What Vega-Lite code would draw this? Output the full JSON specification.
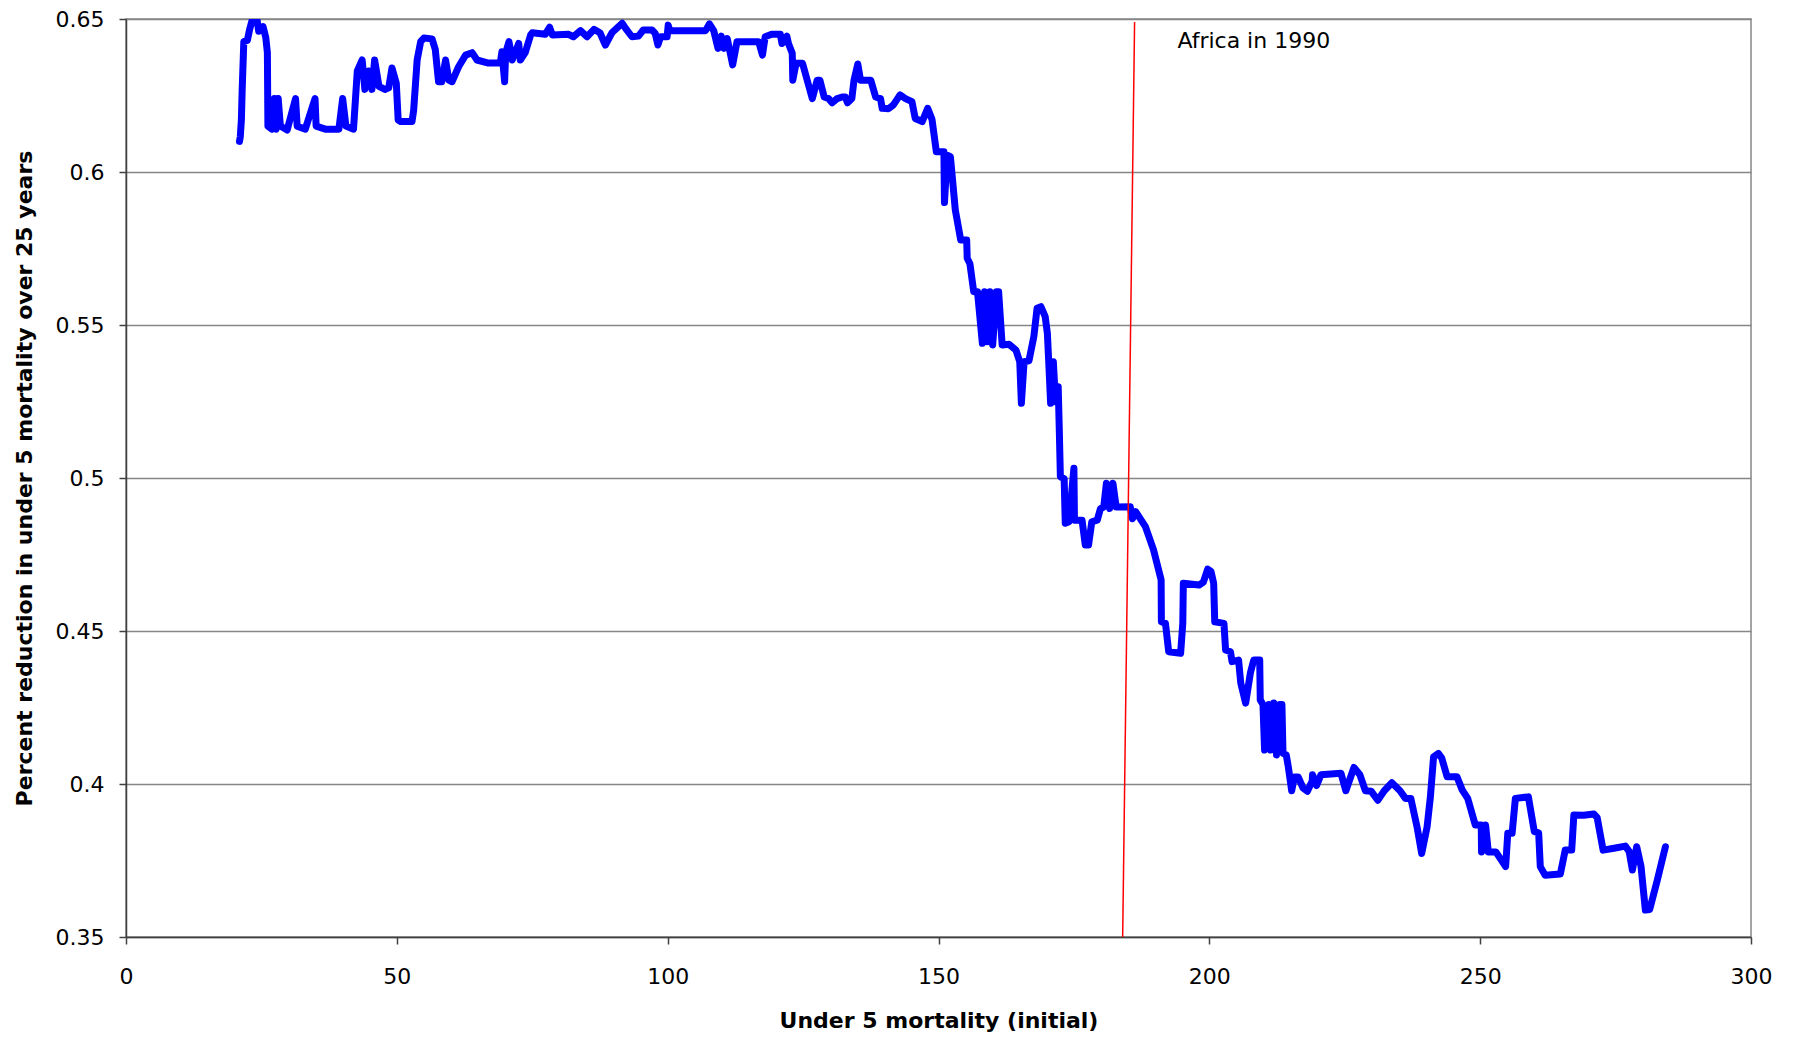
{
  "$schema": "https://vega.github.io/schema/vega-lite/v6.json",
  "width": 1625,
  "height": 918,
  "autosize": "none",
  "padding": {"left": 126, "top": 19, "right": 44, "bottom": 102},
  "background": "white",
  "config": {"font": "DejaVu Sans", "view": {"stroke": "#868686", "strokeWidth": 1.5}},
  "datasets": {
    "curve": [
      {"u5m":20.95,"reduction":0.610},{"u5m":21.1,"reduction":0.6115},{"u5m":21.3,"reduction":0.617},{"u5m":21.45,"reduction":0.627},{"u5m":21.75,"reduction":0.6426},{"u5m":22.4,"reduction":0.643},{"u5m":22.8,"reduction":0.6464},{"u5m":23.3,"reduction":0.6497},{"u5m":24.2,"reduction":0.6497},{"u5m":24.5,"reduction":0.646},{"u5m":25.3,"reduction":0.6475},{"u5m":25.8,"reduction":0.644},{"u5m":26.1,"reduction":0.639},{"u5m":26.2,"reduction":0.615},{"u5m":26.95,"reduction":0.614},{"u5m":27.4,"reduction":0.624},{"u5m":27.7,"reduction":0.614},{"u5m":28.1,"reduction":0.624},{"u5m":28.5,"reduction":0.615},{"u5m":29.75,"reduction":0.6137},{"u5m":31.3,"reduction":0.624},{"u5m":31.6,"reduction":0.615},{"u5m":33.1,"reduction":0.614},{"u5m":34.9,"reduction":0.624},{"u5m":35.1,"reduction":0.615},{"u5m":36.8,"reduction":0.614},{"u5m":39.3,"reduction":0.614},{"u5m":40.0,"reduction":0.624},{"u5m":40.6,"reduction":0.615},{"u5m":42.0,"reduction":0.614},{"u5m":42.7,"reduction":0.633},{"u5m":43.6,"reduction":0.6366},{"u5m":44.1,"reduction":0.627},{"u5m":44.8,"reduction":0.633},{"u5m":45.4,"reduction":0.627},{"u5m":45.9,"reduction":0.6366},{"u5m":46.7,"reduction":0.628},{"u5m":47.8,"reduction":0.627},{"u5m":48.5,"reduction":0.6275},{"u5m":49.1,"reduction":0.634},{"u5m":49.9,"reduction":0.629},{"u5m":50.25,"reduction":0.617},{"u5m":50.7,"reduction":0.6165},{"u5m":52.8,"reduction":0.6165},{"u5m":53.1,"reduction":0.620},{"u5m":53.75,"reduction":0.6366},{"u5m":54.4,"reduction":0.6426},{"u5m":55.0,"reduction":0.6438},{"u5m":56.5,"reduction":0.6435},{"u5m":57.1,"reduction":0.640},{"u5m":57.7,"reduction":0.6295},{"u5m":58.3,"reduction":0.6295},{"u5m":59.0,"reduction":0.6366},{"u5m":59.6,"reduction":0.630},{"u5m":60.2,"reduction":0.6295},{"u5m":61.4,"reduction":0.6344},{"u5m":62.7,"reduction":0.6382},{"u5m":63.9,"reduction":0.639},{"u5m":64.8,"reduction":0.6366},{"u5m":66.9,"reduction":0.6356},{"u5m":69.1,"reduction":0.6356},{"u5m":69.4,"reduction":0.6393},{"u5m":69.9,"reduction":0.6295},{"u5m":70.1,"reduction":0.639},{"u5m":70.7,"reduction":0.6426},{"u5m":71.3,"reduction":0.6366},{"u5m":72.5,"reduction":0.642},{"u5m":72.8,"reduction":0.6366},{"u5m":73.7,"reduction":0.639},{"u5m":74.7,"reduction":0.6448},
      {"u5m":75.0,"reduction":0.6455},{"u5m":77.4,"reduction":0.645},{"u5m":78.2,"reduction":0.6473},{"u5m":78.7,"reduction":0.6448},{"u5m":81.7,"reduction":0.645},{"u5m":82.6,"reduction":0.6442},{"u5m":83.9,"reduction":0.6462},{"u5m":85.1,"reduction":0.6442},{"u5m":86.4,"reduction":0.6466},{"u5m":87.5,"reduction":0.6455},{"u5m":88.5,"reduction":0.6415},{"u5m":89.7,"reduction":0.6455},{"u5m":90.6,"reduction":0.647},{"u5m":91.6,"reduction":0.6486},{"u5m":92.2,"reduction":0.647},{"u5m":93.4,"reduction":0.6442},{"u5m":94.6,"reduction":0.6444},{"u5m":95.5,"reduction":0.6464},{"u5m":97.1,"reduction":0.6464},{"u5m":97.7,"reduction":0.6453},{"u5m":98.2,"reduction":0.6415},{"u5m":98.7,"reduction":0.6442},{"u5m":99.9,"reduction":0.6442},{"u5m":100.1,"reduction":0.648},{"u5m":100.4,"reduction":0.6462},{"u5m":107.0,"reduction":0.6462},{"u5m":107.7,"reduction":0.6484},{"u5m":108.5,"reduction":0.6462},{"u5m":109.3,"reduction":0.6404},{"u5m":109.9,"reduction":0.6444},{"u5m":110.4,"reduction":0.6404},{"u5m":111.0,"reduction":0.6436},{"u5m":112.0,"reduction":0.635},{"u5m":112.8,"reduction":0.6426},{"u5m":116.8,"reduction":0.6426},{"u5m":117.5,"reduction":0.6382},{"u5m":118.0,"reduction":0.6442},{"u5m":119.2,"reduction":0.645},{"u5m":120.8,"reduction":0.645},{"u5m":121.1,"reduction":0.642},{"u5m":122.0,"reduction":0.6444},{"u5m":122.3,"reduction":0.642},{"u5m":123.0,"reduction":0.6388},{"u5m":123.1,"reduction":0.630},{"u5m":123.7,"reduction":0.6355},{"u5m":124.9,"reduction":0.6355},{"u5m":126.7,"reduction":0.624},{"u5m":127.6,"reduction":0.630},{"u5m":128.1,"reduction":0.630},{"u5m":128.9,"reduction":0.6245},{"u5m":129.7,"reduction":0.624},{"u5m":130.35,"reduction":0.6226},{"u5m":131.3,"reduction":0.624},{"u5m":132.2,"reduction":0.6245},{"u5m":132.8,"reduction":0.6245},{"u5m":133.2,"reduction":0.6226},{"u5m":134.0,"reduction":0.624},{"u5m":134.4,"reduction":0.630},{"u5m":135.1,"reduction":0.6353},{"u5m":135.6,"reduction":0.630},{"u5m":137.5,"reduction":0.630},{"u5m":138.4,"reduction":0.6245},{"u5m":139.3,"reduction":0.624},{"u5m":139.6,"reduction":0.6208},{"u5m":140.8,"reduction":0.6207},{"u5m":141.7,"reduction":0.622},{"u5m":142.9,"reduction":0.6252},{"u5m":143.9,"reduction":0.624},{"u5m":145.1,"reduction":0.623},{"u5m":145.7,"reduction":0.6175},{"u5m":147.0,"reduction":0.6165},{"u5m":148.0,"reduction":0.6208},{"u5m":148.8,"reduction":0.6172},{"u5m":149.6,"reduction":0.6066},{"u5m":151.0,"reduction":0.6066},{"u5m":151.1,"reduction":0.590},{"u5m":151.6,"reduction":0.6055},{"u5m":152.2,"reduction":0.605},{"u5m":153.1,"reduction":0.5876},{"u5m":154.1,"reduction":0.5778},{"u5m":155.2,"reduction":0.5778},{"u5m":155.3,"reduction":0.5718},{"u5m":155.8,"reduction":0.570},{"u5m":156.5,"reduction":0.5609},{"u5m":157.2,"reduction":0.5609},{"u5m":158.1,"reduction":0.544},{"u5m":158.5,"reduction":0.5609},{"u5m":159.0,"reduction":0.5445},{"u5m":159.5,"reduction":0.5609},{"u5m":160.0,"reduction":0.5435},{"u5m":160.7,"reduction":0.5609},{"u5m":161.1,"reduction":0.5609},{"u5m":161.75,"reduction":0.5435},{"u5m":163.0,"reduction":0.5437},{"u5m":164.3,"reduction":0.5418},{"u5m":165.0,"reduction":0.538},{"u5m":165.3,"reduction":0.5244},{"u5m":165.8,"reduction":0.538},{"u5m":166.7,"reduction":0.5383},{"u5m":167.6,"reduction":0.5462},{"u5m":168.2,"reduction":0.5555},{"u5m":168.9,"reduction":0.556},{"u5m":169.7,"reduction":0.5527},{"u5m":170.1,"reduction":0.5473},{"u5m":170.35,"reduction":0.538},{"u5m":170.7,"reduction":0.5244},{"u5m":171.2,"reduction":0.538},{"u5m":171.6,"reduction":0.5249},{"u5m":172.1,"reduction":0.5298},{"u5m":172.3,"reduction":0.5157},{"u5m":172.5,"reduction":0.5004},{"u5m":173.2,"reduction":0.4998},{"u5m":173.4,"reduction":0.4852},{"u5m":174.1,"reduction":0.4857},{"u5m":175.0,"reduction":0.5032},{"u5m":175.1,"reduction":0.4862},{"u5m":176.5,"reduction":0.4862},{"u5m":177.1,"reduction":0.4781},{"u5m":177.7,"reduction":0.4781},{"u5m":178.3,"reduction":0.4857},{"u5m":179.3,"reduction":0.4862},{"u5m":179.9,"reduction":0.490},{"u5m":180.5,"reduction":0.4905},{"u5m":181.0,"reduction":0.4983},{"u5m":181.6,"reduction":0.490},{"u5m":182.2,"reduction":0.4983},{"u5m":182.8,"reduction":0.4905},{"u5m":185.4,"reduction":0.4906},{"u5m":185.8,"reduction":0.4867},{"u5m":186.4,"reduction":0.489},{"u5m":188.2,"reduction":0.4841},{"u5m":189.7,"reduction":0.4765},{"u5m":191.1,"reduction":0.4667},{"u5m":191.15,"reduction":0.453},{"u5m":191.9,"reduction":0.4525},{"u5m":192.5,"reduction":0.4432},{"u5m":194.7,"reduction":0.4427},{"u5m":195.1,"reduction":0.4525},{"u5m":195.2,"reduction":0.4656},{"u5m":198.1,"reduction":0.465},{"u5m":198.9,"reduction":0.466},{"u5m":199.7,"reduction":0.4702},{"u5m":200.3,"reduction":0.4695},{"u5m":200.8,"reduction":0.4656},{"u5m":201.0,"reduction":0.453},{"u5m":202.7,"reduction":0.4525},{"u5m":203.0,"reduction":0.4438},{"u5m":203.9,"reduction":0.4432},{"u5m":204.2,"reduction":0.440},{"u5m":205.4,"reduction":0.4405},{"u5m":205.8,"reduction":0.433},{"u5m":206.7,"reduction":0.4264},{"u5m":207.6,"reduction":0.4365},{"u5m":208.2,"reduction":0.4405},{"u5m":209.3,"reduction":0.4405},{"u5m":209.4,"reduction":0.4275},{"u5m":209.9,"reduction":0.426},{"u5m":210.2,"reduction":0.4111},{"u5m":211.0,"reduction":0.426},{"u5m":211.3,"reduction":0.4111},{"u5m":211.9,"reduction":0.4265},{"u5m":212.4,"reduction":0.4095},{"u5m":213.0,"reduction":0.426},{"u5m":213.4,"reduction":0.426},{"u5m":213.6,"reduction":0.41},{"u5m":214.2,"reduction":0.4095},{"u5m":214.6,"reduction":0.4054},{"u5m":215.2,"reduction":0.3978},{"u5m":215.7,"reduction":0.4023},{"u5m":216.4,"reduction":0.4023},{"u5m":217.3,"reduction":0.3987},{"u5m":218.1,"reduction":0.3976},{"u5m":219.0,"reduction":0.401},{"u5m":219.05,"reduction":0.403},{"u5m":219.8,"reduction":0.3995},{"u5m":220.6,"reduction":0.403},{"u5m":224.3,"reduction":0.4035},{"u5m":225.2,"reduction":0.3978},{"u5m":226.7,"reduction":0.4054},{"u5m":227.8,"reduction":0.403},{"u5m":228.8,"reduction":0.3978},{"u5m":229.9,"reduction":0.3976},{"u5m":231.1,"reduction":0.3947},{"u5m":232.3,"reduction":0.3978},{"u5m":233.7,"reduction":0.4004},{"u5m":235.2,"reduction":0.3978},{"u5m":236.2,"reduction":0.3953},{"u5m":237.2,"reduction":0.3953},{"u5m":238.4,"reduction":0.3855},{"u5m":239.2,"reduction":0.3773},{"u5m":240.2,"reduction":0.386},{"u5m":240.8,"reduction":0.3956},{"u5m":241.4,"reduction":0.4089},{"u5m":242.3,"reduction":0.41},{"u5m":242.9,"reduction":0.4085},{"u5m":243.9,"reduction":0.4024},{"u5m":245.7,"reduction":0.4024},{"u5m":246.7,"reduction":0.398},{"u5m":247.7,"reduction":0.3953},{"u5m":249.1,"reduction":0.3866},{"u5m":250.2,"reduction":0.3866},{"u5m":250.25,"reduction":0.3778},{"u5m":251.0,"reduction":0.3866},{"u5m":251.5,"reduction":0.3778},{"u5m":252.9,"reduction":0.3778},{"u5m":254.7,"reduction":0.373},{"u5m":255.1,"reduction":0.3839},{"u5m":255.9,"reduction":0.3839},{"u5m":256.5,"reduction":0.3953},{"u5m":258.9,"reduction":0.3958},{"u5m":260.0,"reduction":0.3844},{"u5m":260.8,"reduction":0.384},{"u5m":261.1,"reduction":0.373},{"u5m":262.0,"reduction":0.3702},{"u5m":264.8,"reduction":0.3706},{"u5m":265.7,"reduction":0.3784},{"u5m":266.9,"reduction":0.3784},{"u5m":267.3,"reduction":0.3899},{"u5m":269.1,"reduction":0.3898},{"u5m":271.0,"reduction":0.3902},{"u5m":271.6,"reduction":0.389},{"u5m":272.7,"reduction":0.3784},{"u5m":274.7,"reduction":0.379},{"u5m":276.8,"reduction":0.3797},{"u5m":277.5,"reduction":0.378},{"u5m":278.1,"reduction":0.3719},{"u5m":278.9,"reduction":0.3795},{"u5m":279.7,"reduction":0.373},{"u5m":280.5,"reduction":0.3588},{"u5m":281.3,"reduction":0.359},{"u5m":282.7,"reduction":0.3686},{"u5m":284.2,"reduction":0.3795}
    ],
    "africa": [
      {"u5m": 184.0, "reduction": 0.35},
      {"u5m": 186.2, "reduction": 0.649}
    ],
    "note": [
      {"u5m": 194.1, "reduction": 0.6427, "label": "Africa in 1990"}
    ]
  },
  "layer": [
    {
      "data": {"name": "curve"},
      "mark": {"type": "line", "color": "#0000FF", "strokeWidth": 7, "strokeJoin": "round", "strokeCap": "round", "clip": true},
      "encoding": {
        "x": {
          "field": "u5m", "type": "quantitative",
          "scale": {"domain": [0, 300], "nice": false, "zero": false},
          "axis": {
            "title": "Under 5 mortality (initial)",
            "values": [0, 50, 100, 150, 200, 250, 300],
            "grid": false,
            "tickSize": 7, "tickColor": "#404040", "tickWidth": 1.5,
            "domainColor": "#404040", "domainWidth": 1.5,
            "labelFontSize": 22, "labelColor": "black", "labelPadding": 32, "labelBaseline": "middle",
            "labelFlush": false, "labelOverlap": false,
            "titleFontSize": 22, "titleFontWeight": "bold", "titleColor": "black",
            "titleY": 83, "titleBaseline": "middle"
          }
        },
        "y": {
          "field": "reduction", "type": "quantitative",
          "scale": {"domain": [0.35, 0.65], "nice": false, "zero": false},
          "axis": {
            "title": "Percent reduction in under 5 mortality over 25 years",
            "values": [0.35, 0.4, 0.45, 0.5, 0.55, 0.6, 0.65],
            "labelExpr": "format(datum.value, '.2~f')",
            "grid": true, "gridColor": "#868686", "gridWidth": 1.5,
            "tickSize": 7, "tickColor": "#404040", "tickWidth": 1.5,
            "domainColor": "#404040", "domainWidth": 1.5,
            "labelFontSize": 22, "labelColor": "black", "labelPadding": 15,
            "labelFlush": false, "labelOverlap": false,
            "titleFontSize": 22, "titleFontWeight": "bold", "titleColor": "black",
            "titleX": -102, "titleBaseline": "middle"
          }
        }
      }
    },
    {
      "data": {"name": "africa"},
      "mark": {"type": "line", "color": "#FF0000", "strokeWidth": 1.5},
      "encoding": {
        "x": {"field": "u5m", "type": "quantitative"},
        "y": {"field": "reduction", "type": "quantitative"}
      }
    },
    {
      "data": {"name": "note"},
      "mark": {"type": "text", "align": "left", "baseline": "middle", "fontSize": 22, "color": "black"},
      "encoding": {
        "x": {"field": "u5m", "type": "quantitative"},
        "y": {"field": "reduction", "type": "quantitative"},
        "text": {"field": "label"}
      }
    }
  ]
}
